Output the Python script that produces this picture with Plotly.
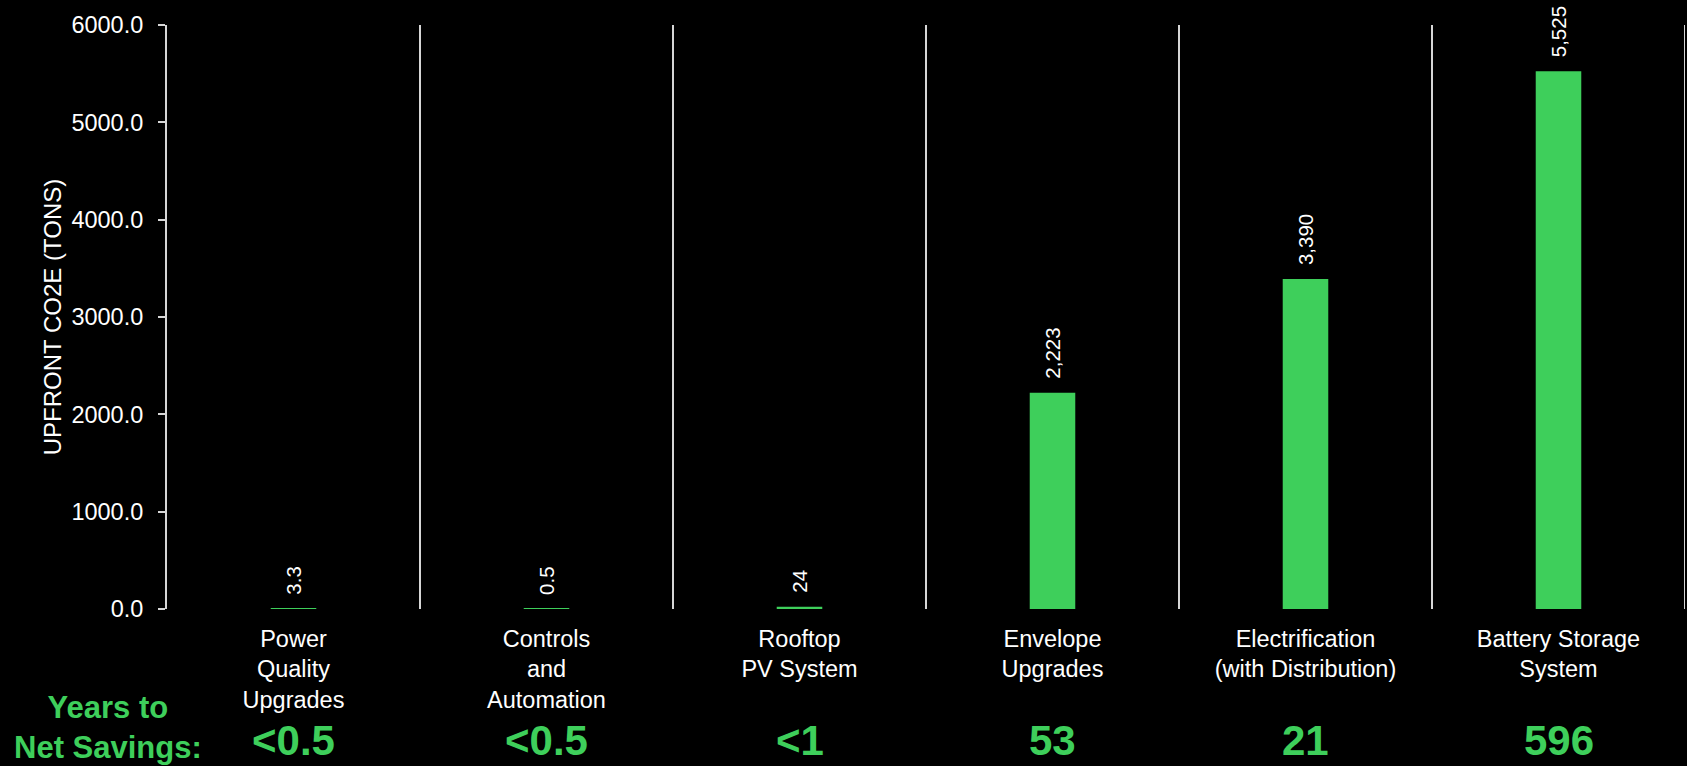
import plotly.graph_objects as go

categories = [
    "Power<br>Quality<br>Upgrades",
    "Controls<br>and<br>Automation",
    "Rooftop<br>PV System",
    "Envelope<br>Upgrades",
    "Electrification<br>(with Distribution)",
    "Battery Storage<br>System",
]
upfront_co2e = [3.3, 0.5, 24, 2223, 3390, 5525]
bar_labels = ["3.3", "0.5", "24", "2,223", "3,390", "5,525"]
years_to_net_savings = ["<0.5", "<0.5", "<1", "53", "21", "596"]
y_ticks = [0, 1000, 2000, 3000, 4000, 5000, 6000]

GREEN = "#3ecf5b"
AXIS = "#d6d6d6"
FONT = "Arial, Liberation Sans, sans-serif"

fig = go.Figure()
fig.add_trace(go.Bar(
    x=categories,
    y=upfront_co2e,
    width=0.18,
    marker=dict(color=GREEN, line=dict(width=0)),
    hoverinfo="x+y",
))

# value labels above bars (rotated)
for c, v, t in zip(categories, upfront_co2e, bar_labels):
    fig.add_annotation(
        x=c, y=v, xref="x", yref="y", text=t, textangle=-90,
        showarrow=False, xanchor="center", yanchor="bottom", yshift=12,
        font=dict(family=FONT, size=20.5, color="white"),
    )

# category separators
for i in range(len(categories)):
    fig.add_shape(
        type="line", xref="x", yref="paper",
        x0=i + 0.5, x1=i + 0.5, y0=0, y1=1,
        line=dict(color=AXIS, width=2),
    )

# years to net savings
for c, t in zip(categories, years_to_net_savings):
    fig.add_annotation(
        x=c, y=-0.225, xref="x", yref="paper", text=t,
        showarrow=False, xanchor="center", yanchor="middle",
        font=dict(family=FONT, size=42, color=GREEN, weight="bold"),
    )

fig.add_annotation(
    x=-0.039, y=-0.203, xref="paper", yref="paper",
    text="Years to<br>Net Savings:", showarrow=False,
    xanchor="center", yanchor="middle", align="center",
    font=dict(family=FONT, size=31, color=GREEN, weight="bold"),
)

fig.update_layout(
    width=1687, height=766,
    paper_bgcolor="black", plot_bgcolor="black",
    margin=dict(l=167, r=2, t=25, b=157, autoexpand=False),
    showlegend=False,
    font=dict(family=FONT, color="white", size=23),
)
fig.update_xaxes(
    type="category", range=[-0.5, len(categories) - 0.5],
    showgrid=False, showline=False, ticks="", zeroline=False,
    tickfont=dict(family=FONT, size=23.5, color="white"),
    ticklabelstandoff=13,
)
fig.update_yaxes(
    range=[0, 6000], tickvals=y_ticks, tickformat=".1f",
    showgrid=False, zeroline=False,
    showline=True, linecolor=AXIS, linewidth=2,
    ticks="outside", ticklen=7, tickwidth=2, tickcolor=AXIS,
    tickfont=dict(family=FONT, size=23.5, color="white"),
    ticklabelstandoff=10,
    title=dict(text="UPFRONT CO2E (TONS)", standoff=3,
               font=dict(family=FONT, size=24, color="white")),
    automargin=False,
)

fig.write_html(
    "out.html",
    config={"displayModeBar": False},
    post_script="document.body.style.margin='0';document.body.style.padding='0';document.body.style.overflow='hidden';",
)
